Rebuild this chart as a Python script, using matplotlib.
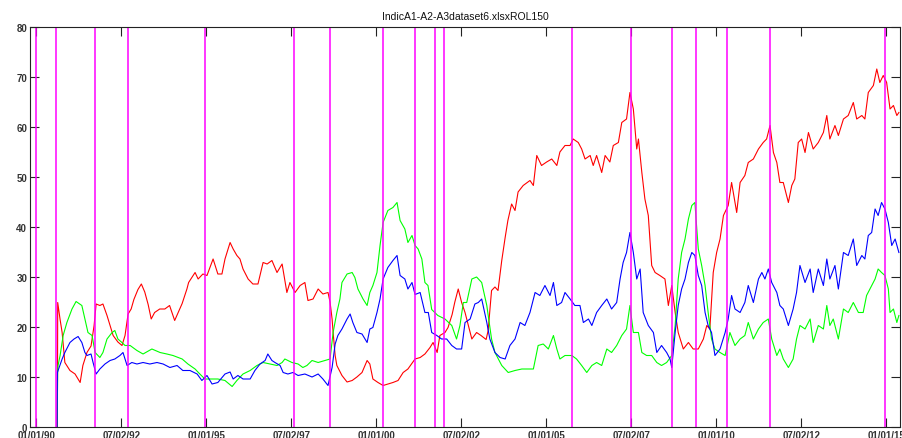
import numpy as np
import pandas as pd
import matplotlib
matplotlib.use("Agg")
import matplotlib.pyplot as plt

# time in decimal years (1990 + days/365.25)
red_t = [1990.62, 1990.63, 1990.70, 1990.76, 1990.84, 1990.99, 1991.14, 1991.29, 1991.37, 1991.49,
         1991.61, 1991.70, 1991.76, 1991.87, 1991.96, 1992.08, 1992.17, 1992.26, 1992.40, 1992.52,
         1992.61, 1992.70, 1992.79, 1992.87, 1992.99, 1993.09, 1993.19, 1993.29, 1993.38, 1993.48,
         1993.63, 1993.78, 1993.92, 1994.07, 1994.22, 1994.29, 1994.43, 1994.48, 1994.67, 1994.76,
         1994.90, 1995.02, 1995.20, 1995.34, 1995.46, 1995.55, 1995.70, 1995.79, 1995.90, 1995.99,
         1996.08, 1996.23, 1996.37, 1996.52, 1996.67, 1996.79, 1996.93, 1997.08, 1997.23, 1997.37,
         1997.46, 1997.61, 1997.76, 1997.90, 1997.99, 1998.14, 1998.29, 1998.43, 1998.58, 1998.64,
         1998.70, 1998.73, 1998.79, 1998.84, 1998.99, 1999.14, 1999.29, 1999.43, 1999.58, 1999.73,
         1999.81, 1999.90, 2000.05, 2000.20, 2000.34, 2000.49, 2000.64, 2000.79, 2000.93, 2001.14,
         2001.29, 2001.43, 2001.58, 2001.67, 2001.79, 2001.87, 2002.02, 2002.11, 2002.23, 2002.31,
         2002.41, 2002.51, 2002.61, 2002.81, 2002.95, 2003.08, 2003.23, 2003.29, 2003.39, 2003.49,
         2003.58, 2003.69, 2003.79, 2003.87, 2003.98, 2004.08, 2004.17, 2004.32, 2004.52, 2004.62,
         2004.72, 2004.86, 2005.01, 2005.16, 2005.31, 2005.40, 2005.55, 2005.70, 2005.79, 2005.94,
         2006.04, 2006.14, 2006.29, 2006.38, 2006.48, 2006.63, 2006.73, 2006.87, 2006.97, 2007.12,
         2007.22, 2007.36, 2007.46, 2007.56, 2007.66, 2007.71, 2007.81, 2007.90, 2008.00, 2008.10,
         2008.20, 2008.34, 2008.49, 2008.59, 2008.69, 2008.79, 2008.88, 2009.03, 2009.18, 2009.32,
         2009.47, 2009.62, 2009.72, 2009.81, 2009.91, 2010.01, 2010.11, 2010.21, 2010.35, 2010.45,
         2010.60, 2010.70, 2010.84, 2010.94, 2011.09, 2011.24, 2011.38, 2011.48, 2011.58, 2011.68,
         2011.78, 2011.87, 2011.97, 2012.12, 2012.22, 2012.31, 2012.41, 2012.51, 2012.61, 2012.71,
         2012.85, 2013.00, 2013.15, 2013.25, 2013.34, 2013.49, 2013.59, 2013.74, 2013.88, 2014.03,
         2014.13, 2014.28, 2014.37, 2014.47, 2014.62, 2014.72, 2014.81, 2014.91, 2015.01, 2015.11,
         2015.21, 2015.31, 2015.37]
red_v = [0, 24.9, 21.5, 18.9, 12.9, 11.3, 10.6, 8.9, 12.3, 14.9,
         16.2, 20.3, 24.6, 24.3, 24.6, 22.3, 20.3, 18.3, 17.0, 16.3,
         18.3, 22.6, 23.6, 25.5, 27.5, 28.6, 27.0, 24.5, 21.6, 22.9,
         23.6, 23.6, 24.3, 21.3, 23.6, 24.7, 27.6, 28.9, 30.9, 29.6,
         30.6, 30.3, 33.6, 30.6, 30.6, 33.6, 36.9, 35.6, 34.3, 33.6,
         31.6, 29.6, 28.6, 28.6, 32.9, 32.6, 33.3, 30.9, 32.6, 26.9,
         28.9, 26.9, 28.3, 28.9, 25.3, 25.6, 27.6, 26.6, 26.9, 25.0,
         21.6, 18.9, 14.3, 12.3, 10.3, 9.0, 9.3, 10.0, 10.9, 13.3,
         12.6, 9.6, 8.9, 8.3, 8.6, 8.9, 9.3, 10.9, 11.6, 13.6,
         13.9, 14.6, 15.9, 16.9, 14.9, 18.3, 18.9, 19.9, 22.5, 25.0,
         27.6, 24.9, 22.9, 17.6, 18.9, 18.3, 17.5, 19.3, 27.3, 28.0,
         27.3, 33.3, 37.9, 41.3, 44.6, 43.3, 47.0, 48.3, 49.3, 48.3,
         54.3, 52.3, 53.0, 53.6, 52.3, 55.0, 56.3, 56.3, 57.6, 56.9,
         55.6, 53.6, 54.3, 52.3, 54.3, 50.9, 54.3, 53.0, 56.3, 56.9,
         60.9, 61.6, 66.9, 63.6, 55.6, 57.6, 50.9, 45.6, 42.3, 32.3,
         30.9, 30.3, 29.6, 24.3, 28.3, 22.9, 18.9, 15.6, 16.9, 15.6,
         15.6, 17.6, 20.3, 19.6, 30.9, 34.9, 37.6, 42.3, 44.3, 48.9,
         42.9, 48.9, 50.3, 52.9, 53.6, 55.6, 56.9, 57.6, 60.3, 54.9,
         52.9, 48.9, 48.9, 44.9, 48.3, 49.6, 56.9, 57.6, 54.9, 58.9,
         55.6, 56.9, 58.9, 62.3, 57.6, 60.3, 58.3, 61.6, 62.3, 64.9,
         61.6, 62.3, 61.6, 66.9, 68.3, 71.6, 68.9, 70.3, 68.9, 63.6,
         64.3, 62.3, 62.9]

green_t = [1990.61, 1990.62, 1990.63, 1990.64, 1990.70, 1990.79, 1990.90, 1991.05, 1991.17, 1991.34,
           1991.43, 1991.52, 1991.64, 1991.73, 1991.87, 1991.96, 1992.08, 1992.23, 1992.31, 1992.40,
           1992.52, 1992.61, 1992.76, 1992.96, 1993.14, 1993.40, 1993.64, 1993.84, 1994.02, 1994.29,
           1994.46, 1994.67, 1994.81, 1994.96, 1995.17, 1995.34, 1995.55, 1995.76, 1995.90, 1996.08,
           1996.29, 1996.49, 1996.67, 1996.87, 1997.08, 1997.23, 1997.31, 1997.52, 1997.70, 1997.84,
           1997.96, 1998.11, 1998.29, 1998.49, 1998.64, 1998.73, 1998.84, 1998.93, 1998.99, 1999.14,
           1999.29, 1999.37, 1999.46, 1999.61, 1999.73, 1999.81, 1999.90, 2000.02, 2000.11, 2000.20,
           2000.34, 2000.49, 2000.61, 2000.70, 2000.84, 2000.93, 2001.05, 2001.14, 2001.23, 2001.34,
           2001.43, 2001.52, 2001.63, 2001.81, 2002.02, 2002.22, 2002.36, 2002.46, 2002.56, 2002.66,
           2002.81, 2002.95, 2003.10, 2003.25, 2003.39, 2003.49, 2003.69, 2003.88, 2004.08, 2004.28,
           2004.47, 2004.62, 2004.76, 2004.91, 2005.06, 2005.21, 2005.31, 2005.40, 2005.55, 2005.75,
           2005.89, 2006.04, 2006.19, 2006.34, 2006.48, 2006.63, 2006.78, 2006.92, 2007.07, 2007.22,
           2007.36, 2007.46, 2007.56, 2007.71, 2007.81, 2007.95, 2008.10, 2008.25, 2008.39, 2008.54,
           2008.69, 2008.79, 2008.88, 2008.98, 2009.08, 2009.18, 2009.28, 2009.37, 2009.47, 2009.57,
           2009.67, 2009.76, 2009.86, 2009.96, 2010.11, 2010.26, 2010.40, 2010.55, 2010.70, 2010.84,
           2010.94, 2011.09, 2011.24, 2011.38, 2011.53, 2011.63, 2011.78, 2011.87, 2011.97, 2012.12,
           2012.26, 2012.36, 2012.46, 2012.61, 2012.76, 2012.85, 2013.00, 2013.15, 2013.25, 2013.34,
           2013.44, 2013.59, 2013.74, 2013.88, 2014.03, 2014.18, 2014.32, 2014.42, 2014.57, 2014.67,
           2014.76, 2014.86, 2014.96, 2015.06, 2015.11, 2015.21, 2015.31, 2015.37]
green_v = [0, 6.0, 11.5, 12.3, 14.3, 18.3, 20.9, 23.6, 25.1, 24.3,
           21.6, 18.9, 18.3, 14.9, 13.9, 14.9, 17.6, 18.9, 19.3, 17.6,
           16.9, 16.3, 16.3, 15.3, 14.6, 15.6, 14.9, 14.6, 14.3, 13.6,
           12.6, 11.6, 10.6, 9.6, 9.6, 9.6, 9.3, 8.1, 9.3, 10.6,
           11.3, 12.3, 12.9, 12.6, 12.3, 12.9, 13.6, 12.9, 12.6, 11.9,
           12.3, 13.3, 12.9, 13.3, 13.6, 18.9, 22.9, 25.6, 28.9, 30.6,
           30.9, 29.9, 27.6, 25.6, 24.3, 26.9, 28.3, 30.9, 36.3, 40.9,
           43.3, 43.9, 44.9, 41.3, 39.6, 36.9, 38.3, 36.3, 35.6, 33.6,
           28.9, 28.3, 23.5, 22.3, 21.6, 20.3, 17.6, 20.3, 24.9, 24.9,
           29.6, 30.0, 28.9, 24.3, 17.6, 14.9, 12.3, 10.9, 11.3, 11.6,
           11.6, 11.6, 16.3, 16.6, 15.6, 18.3, 15.6, 13.6, 14.3, 14.3,
           13.6, 12.3, 10.9, 12.3, 12.9, 12.3, 15.6, 14.9, 16.3, 18.3,
           19.6, 24.3, 18.9, 18.9, 14.9, 14.3, 14.3, 12.9, 12.3, 12.9,
           14.3, 20.3, 29.6, 34.9, 37.6, 41.6, 44.3, 44.9, 35.6, 32.3,
           28.3, 22.9, 17.6, 15.6, 14.9, 14.3, 18.9, 16.3, 17.6, 18.3,
           20.9, 17.6, 19.6, 20.9, 21.6, 17.6, 14.3, 15.6, 13.6, 11.9,
           13.6, 17.6, 20.3, 19.6, 21.6, 16.9, 20.3, 19.6, 24.3, 20.3,
           21.6, 17.6, 23.6, 22.9, 24.9, 22.9, 22.9, 26.3, 28.3, 29.6,
           31.6, 30.9, 30.3, 27.6, 22.9, 23.6, 20.9, 22.3]

blue_t = [1990.61, 1990.62, 1990.76, 1990.84, 1990.99, 1991.11, 1991.23, 1991.34, 1991.43, 1991.49,
          1991.61, 1991.67, 1991.76, 1991.87, 1992.02, 1992.17, 1992.31, 1992.46, 1992.55, 1992.67,
          1992.81, 1992.96, 1993.14, 1993.34, 1993.55, 1993.73, 1993.93, 1994.14, 1994.31, 1994.52,
          1994.73, 1994.87, 1995.02, 1995.17, 1995.34, 1995.55, 1995.70, 1995.79, 1995.93, 1996.08,
          1996.29, 1996.43, 1996.58, 1996.73, 1996.81, 1996.93, 1997.02, 1997.17, 1997.26, 1997.40,
          1997.55, 1997.70, 1997.90, 1998.11, 1998.29, 1998.43, 1998.58, 1998.70, 1998.79, 1998.87,
          1998.99, 1999.14, 1999.23, 1999.31, 1999.43, 1999.58, 1999.73, 1999.81, 1999.90, 2000.02,
          2000.11, 2000.20, 2000.34, 2000.49, 2000.61, 2000.70, 2000.84, 2000.93, 2001.05, 2001.14,
          2001.29, 2001.43, 2001.53, 2001.63, 2001.78, 2001.92, 2002.07, 2002.22, 2002.36, 2002.51,
          2002.61, 2002.76, 2002.90, 2003.00, 2003.10, 2003.25, 2003.34, 2003.49, 2003.64, 2003.79,
          2003.93, 2004.08, 2004.23, 2004.37, 2004.52, 2004.67, 2004.81, 2004.96, 2005.11, 2005.21,
          2005.31, 2005.45, 2005.55, 2005.70, 2005.84, 2005.99, 2006.09, 2006.24, 2006.34, 2006.48,
          2006.63, 2006.78, 2006.92, 2007.07, 2007.17, 2007.26, 2007.36, 2007.46, 2007.56, 2007.66,
          2007.76, 2007.85, 2008.00, 2008.15, 2008.25, 2008.39, 2008.54, 2008.64, 2008.69, 2008.79,
          2008.88, 2008.98, 2009.08, 2009.18, 2009.28, 2009.37, 2009.47, 2009.57, 2009.67, 2009.76,
          2009.86, 2009.96, 2010.11, 2010.26, 2010.35, 2010.45, 2010.55, 2010.70, 2010.84, 2010.94,
          2011.09, 2011.24, 2011.34, 2011.43, 2011.53, 2011.63, 2011.78, 2011.87, 2011.97, 2012.12,
          2012.26, 2012.36, 2012.46, 2012.61, 2012.76, 2012.85, 2013.00, 2013.15, 2013.25, 2013.34,
          2013.49, 2013.59, 2013.74, 2013.88, 2014.03, 2014.13, 2014.28, 2014.37, 2014.47, 2014.57,
          2014.67, 2014.76, 2014.86, 2014.96, 2015.06, 2015.16, 2015.26, 2015.37]
blue_v = [0, 10.9, 13.6, 14.9, 16.9, 17.6, 18.1, 16.9, 14.9, 14.3,
          14.6, 12.9, 10.6, 11.6, 12.6, 13.3, 13.6, 14.3, 14.9, 12.3,
          12.9, 12.6, 12.9, 12.6, 12.9, 12.6, 11.9, 12.3, 11.3, 11.3,
          10.6, 9.3, 10.3, 8.6, 8.9, 10.6, 11.0, 9.6, 10.3, 9.6,
          9.6, 11.3, 12.6, 13.3, 14.6, 13.3, 12.9, 12.3, 10.9, 10.6,
          10.9, 10.3, 10.6, 10.0, 10.6, 9.6, 8.3, 11.9, 16.6, 18.3,
          19.6, 21.6, 22.6, 20.9, 18.9, 18.6, 16.9, 19.6, 19.9, 22.9,
          25.6, 29.6, 31.9, 33.3, 34.3, 30.3, 29.6, 27.6, 28.9, 26.5,
          26.9, 22.9, 22.9, 18.9, 18.3, 17.6, 17.6, 16.3, 15.6, 15.6,
          20.9, 21.6, 24.6, 24.9, 25.6, 20.9, 17.6, 14.9, 13.9, 13.6,
          16.3, 17.6, 20.9, 20.3, 22.9, 26.9, 26.3, 28.3, 26.3, 28.9,
          24.3, 24.9, 26.9, 25.6, 24.3, 24.3, 20.9, 21.6, 20.3, 22.9,
          24.3, 25.6, 23.6, 24.9, 29.6, 32.9, 34.9, 38.9, 34.9, 29.6,
          31.6, 22.9, 20.3, 18.9, 14.9, 16.3, 14.9, 13.6, 11.9, 18.9,
          24.3, 27.6, 29.6, 32.9, 34.9, 34.3, 30.3, 28.3, 22.9, 20.3,
          18.9, 14.3, 15.6, 18.9, 21.6, 26.3, 23.6, 22.9, 24.9, 28.3,
          24.9, 29.6, 30.9, 29.6, 31.6, 28.9, 26.9, 24.3, 23.6, 20.3,
          23.6, 26.9, 32.3, 28.9, 31.6, 26.9, 31.6, 28.3, 33.6, 29.6,
          32.3, 27.6, 34.9, 34.3, 37.6, 32.3, 34.3, 33.6, 38.3, 38.9,
          43.6, 42.3, 44.9, 43.6, 40.9, 36.3, 37.6, 34.9]

# break points (magenta vertical lines), decimal years
breaks_t = [1990.00, 1990.58, 1991.72, 1992.71, 1994.95, 1997.57, 1998.65, 2000.19, 2001.13,
            2001.72, 2001.99, 2005.75, 2007.49, 2008.71, 2009.40, 2010.31, 2011.59, 2014.97]

tick_dates = ['1990-01-01', '1992-07-02', '1995-01-01', '1997-07-02', '2000-01-01', '2002-07-02',
              '2005-01-01', '2007-07-02', '2010-01-01', '2012-07-02', '2015-01-01']

tick_ts = pd.to_datetime(tick_dates)
tick_pos = 1990 + (tick_ts - pd.Timestamp('1990-01-01')).days / 365.25
tick_lab = [d.strftime('%m/%d/%y') for d in tick_ts]

fig = plt.figure(figsize=(9.02, 4.39), dpi=100)
ax = fig.add_axes([30/902, 11/439, 870/902, 400/439])

ax.plot(red_t, red_v, color='#ff0000', lw=0.8)
ax.plot(green_t, green_v, color='#00ff00', lw=0.8)
ax.plot(blue_t, blue_v, color='#0000ff', lw=0.8)
for b in breaks_t:
    ax.axvline(b, color='#ff00ff', lw=1.1)

ax.set_xlim(1989.815, 2015.403)
ax.set_ylim(0, 80)
ax.set_xticks(tick_pos)
ax.set_xticklabels(tick_lab)
ax.set_yticks(np.arange(0, 81, 10))

ax.tick_params(direction='in', length=6.5, width=0.8, top=True, right=True,
               labelsize=7, colors='#222222', pad=2)
for lab in ax.get_xticklabels() + ax.get_yticklabels():
    lab.set_fontfamily('Liberation Sans')
    lab.set_fontweight('bold')
    lab.set_color('#333333')
for s in ax.spines.values():
    s.set_linewidth(0.8)
    s.set_color('#222222')

ax.set_title('IndicA1-A2-A3dataset6.xlsxROL150', fontsize=7.5, pad=6,
             family=['Liberation Sans Narrow', 'Liberation Sans'], color='#111111')

fig.savefig('out.png', dpi=100)
